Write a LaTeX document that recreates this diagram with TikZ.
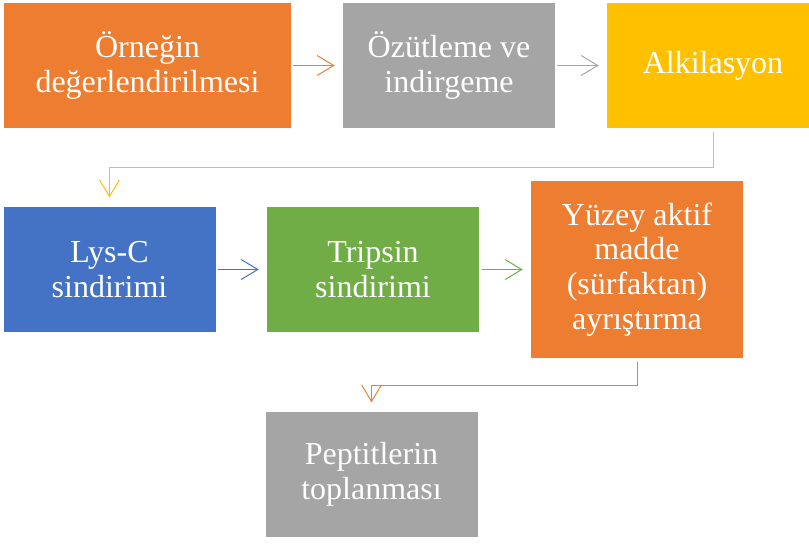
\documentclass[tikz,border=0pt]{standalone}
\usepackage{fontspec}
\setmainfont{Liberation Serif}
\usepackage{xcolor}
\definecolor{cOrange}{HTML}{ED7D31}
\definecolor{cGray}{HTML}{A5A5A5}
\definecolor{cYellow}{HTML}{FFC000}
\definecolor{cBlue}{HTML}{4472C4}
\definecolor{cGreen}{HTML}{70AD47}
\usetikzlibrary{positioning,arrows.meta}
\tikzset{
  step-box/.style={minimum width=212*0.75pt,minimum height=125*0.75pt,
    align=center,text=white,inner sep=0pt,
    font=\fontsize{24}{26}\selectfont},
  arrow/.style={-{Straight Barb[length=12.5pt,width=15pt]},line width=0.75pt},
}

\begin{document}
\begin{tikzpicture}[x=0.75pt,y=-0.75pt]
  \useasboundingbox (0,0) rectangle (809,545);
  % first row
  \node[step-box,fill=cOrange,minimum width=287*0.75pt] (eval) at (147.5,65.5)
    {Örneğin\\değerlendirilmesi};
  \node[step-box,fill=cGray] (extract) at (449,65.5) {Özütleme ve\\indirgeme};
  \node[step-box,fill=cYellow] (alkyl) at (713,65.5) {Alkilasyon};
  % second row
  \node[step-box,fill=cBlue] (lysc) at (109.5,269.5) {Lys-C\\sindirimi};
  \node[step-box,fill=cGreen] (trypsin) at (373,269.5) {Tripsin\\sindirimi};
  \node[step-box,fill=cOrange,minimum height=177*0.75pt] (surf) at (637,269.5)
    {Yüzey aktif\\madde\\(sürfaktan)\\ayrıştırma};
  % last step
  \node[step-box,fill=cGray] (pept) at (371.5,474.5) {Peptitlerin\\toplanması};

  \draw[arrow,cOrange,shorten <=1.5pt,shorten >=6pt] (eval) -- (extract);
  \draw[arrow,cGray,shorten <=1.5pt,shorten >=6pt] (extract) -- (alkyl);
  \draw[arrow,cBlue,shorten <=2pt,shorten >=6pt] (lysc) -- (trypsin);
  \draw[arrow,cGreen,shorten <=2pt,shorten >=6pt] (trypsin) -- (surf);
  \draw[arrow,cYellow,shorten <=2.5pt,shorten >=7pt]
    (alkyl.south) -- ++(0,39) -| (lysc.north);
  \draw[arrow,cOrange,shorten <=3pt,shorten >=7pt]
    (surf.south) -- ++(0,27) -| (pept.north);
\end{tikzpicture}
\end{document}
